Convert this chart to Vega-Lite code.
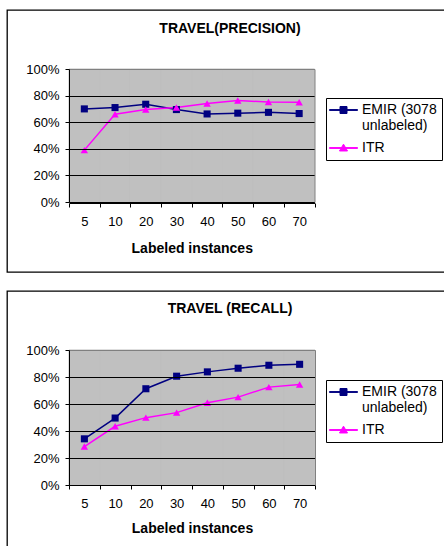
{
  "$schema": "https://vega.github.io/schema/vega-lite/v6.json",
  "padding": {"left": 6, "top": 9, "right": 0, "bottom": 0},
  "autosize": {"type": "pad"},
  "spacing": 17,
  "resolve": {"scale": {"color": "independent"}, "legend": {"color": "independent"}},
  "config": {
    "font": "Liberation Sans",
    "view": {"stroke": "black", "strokeWidth": 1.3, "fill": "white"},
    "axis": {"labelColor": "black", "domainColor": "black", "tickColor": "black", "titleColor": "black", "labelFontSize": 13, "tickSize": 4, "domainWidth": 1, "tickWidth": 1},
    "legend": {"orient": "none", "strokeColor": "black", "fillColor": "white", "padding": 5, "symbolOffset": 5.5, "labelOffset": 11.5, "labelFontSize": 14, "labelColor": "black", "symbolSize": 49, "symbolStrokeWidth": 1, "rowPadding": 8}
  },
  "datasets": {
    "precision": [
      {"n": 5, "series": "EMIR (3078 unlabeled)", "value": 0.70},
      {"n": 10, "series": "EMIR (3078 unlabeled)", "value": 0.71},
      {"n": 20, "series": "EMIR (3078 unlabeled)", "value": 0.735},
      {"n": 30, "series": "EMIR (3078 unlabeled)", "value": 0.695},
      {"n": 40, "series": "EMIR (3078 unlabeled)", "value": 0.662},
      {"n": 50, "series": "EMIR (3078 unlabeled)", "value": 0.668},
      {"n": 60, "series": "EMIR (3078 unlabeled)", "value": 0.674},
      {"n": 70, "series": "EMIR (3078 unlabeled)", "value": 0.665},
      {"n": 5, "series": "ITR", "value": 0.39},
      {"n": 10, "series": "ITR", "value": 0.66},
      {"n": 20, "series": "ITR", "value": 0.695},
      {"n": 30, "series": "ITR", "value": 0.71},
      {"n": 40, "series": "ITR", "value": 0.74},
      {"n": 50, "series": "ITR", "value": 0.763},
      {"n": 60, "series": "ITR", "value": 0.752},
      {"n": 70, "series": "ITR", "value": 0.75}
    ],
    "recall": [
      {"n": 5, "series": "EMIR (3078 unlabeled)", "value": 0.342},
      {"n": 10, "series": "EMIR (3078 unlabeled)", "value": 0.496},
      {"n": 20, "series": "EMIR (3078 unlabeled)", "value": 0.713},
      {"n": 30, "series": "EMIR (3078 unlabeled)", "value": 0.806},
      {"n": 40, "series": "EMIR (3078 unlabeled)", "value": 0.838},
      {"n": 50, "series": "EMIR (3078 unlabeled)", "value": 0.865},
      {"n": 60, "series": "EMIR (3078 unlabeled)", "value": 0.887},
      {"n": 70, "series": "EMIR (3078 unlabeled)", "value": 0.894},
      {"n": 5, "series": "ITR", "value": 0.285},
      {"n": 10, "series": "ITR", "value": 0.435},
      {"n": 20, "series": "ITR", "value": 0.499},
      {"n": 30, "series": "ITR", "value": 0.536},
      {"n": 40, "series": "ITR", "value": 0.609},
      {"n": 50, "series": "ITR", "value": 0.651},
      {"n": 60, "series": "ITR", "value": 0.725},
      {"n": 70, "series": "ITR", "value": 0.744}
    ]
  },
  "vconcat": [
    {
      "width": 446,
      "height": 262,
      "title": {"text": "TRAVEL(PRECISION)", "anchor": "middle", "frame": "group", "orient": "top", "offset": -37, "baseline": "alphabetic", "fontSize": 14, "fontWeight": "bold", "color": "black"},
      "data": {"name": "precision"},
      "resolve": {"axis": {"y": "independent"}},
      "layer": [
        {
          "mark": {"type": "rect", "fill": "#C0C0C0", "stroke": "#C0C0C0", "strokeWidth": 0.6},
          "encoding": {
            "x": {"field": "n", "type": "ordinal", "scale": {"type": "band", "range": [62, 307.5], "paddingInner": 0, "paddingOuter": 0},
              "axis": {"orient": "bottom", "offset": -69, "tickBand": "extent", "labelAngle": 0, "labelPadding": 8, "grid": false, "title": "Labeled instances", "titleFontSize": 14, "titleFontWeight": "bold", "titlePadding": 13, "zindex": 1}},
            "y": {"datum": 0, "type": "quantitative", "scale": {"domain": [0, 1], "range": [192, 59]},
              "axis": {"orient": "left", "offset": -62, "values": [0, 0.2, 0.4, 0.6, 0.8, 1], "format": ".0%", "labelPadding": 6, "grid": true, "gridColor": {"condition": {"test": "datum.value === 1", "value": "#808080"}, "value": "black"}, "gridWidth": 1, "title": null, "zindex": 1}},
            "y2": {"datum": 1}
          }
        },
        {
          "mark": {"type": "line", "strokeWidth": 1.5},
          "encoding": {
            "x": {"field": "n", "type": "ordinal", "scale": {"type": "band", "range": [62, 307.5], "paddingInner": 0, "paddingOuter": 0}},
            "y": {"field": "value", "type": "quantitative", "scale": {"domain": [0, 1], "range": [192, 59]},
              "axis": {"orient": "right", "offset": -138.5, "labels": false, "ticks": false, "grid": false, "title": null, "domainColor": "#808080", "zindex": 1}},
            "color": {"field": "series", "type": "nominal", "scale": {"domain": ["EMIR (3078 unlabeled)", "ITR"], "range": ["#000080", "#FF00FF"]},
              "legend": {"legendX": 319, "legendY": 88, "title": null,
                "labelExpr": "datum.value === 'ITR' ? 'ITR' : ['EMIR (3078', 'unlabeled)']",
                "encode": {
                  "symbols": {"update": {
                    "shape": {"signal": "datum.value === 'ITR' ? 'M-4,-0.12H4V0.12H-4Z M0,-1.1L1.15,0.85H-1.15Z' : 'M-4,-0.12H4V0.12H-4Z M-1,-1H1V1H-1Z'"},
                    "fill": {"signal": "datum.value === 'ITR' ? '#FF00FF' : '#000080'"}
                  }},
                  "labels": {"update": {"lineHeight": {"value": 15.5}}}
                }}}
          }
        },
        {
          "transform": [{"filter": "datum.series === 'EMIR (3078 unlabeled)'"}],
          "mark": {"type": "point", "shape": "square", "filled": true, "size": 50, "color": "#000080", "opacity": 1},
          "encoding": {
            "x": {"field": "n", "type": "ordinal", "scale": {"type": "band", "range": [62, 307.5], "paddingInner": 0, "paddingOuter": 0}},
            "y": {"field": "value", "type": "quantitative", "scale": {"domain": [0, 1], "range": [192, 59]}, "axis": null}
          }
        },
        {
          "transform": [{"filter": "datum.series === 'ITR'"}],
          "mark": {"type": "point", "shape": "triangle-up", "filled": true, "size": 55, "color": "#FF00FF", "opacity": 1},
          "encoding": {
            "x": {"field": "n", "type": "ordinal", "scale": {"type": "band", "range": [62, 307.5], "paddingInner": 0, "paddingOuter": 0}},
            "y": {"field": "value", "type": "quantitative", "scale": {"domain": [0, 1], "range": [192, 59]}, "axis": null}
          }
        }
      ]
    },
    {
      "width": 446,
      "height": 262,
      "title": {"text": "TRAVEL (RECALL)", "anchor": "middle", "frame": "group", "orient": "top", "offset": -36, "baseline": "alphabetic", "fontSize": 14, "fontWeight": "bold", "color": "black"},
      "data": {"name": "recall"},
      "resolve": {"axis": {"y": "independent"}},
      "layer": [
        {
          "mark": {"type": "rect", "fill": "#C0C0C0", "stroke": "#C0C0C0", "strokeWidth": 0.6},
          "encoding": {
            "x": {"field": "n", "type": "ordinal", "scale": {"type": "band", "range": [62, 308], "paddingInner": 0, "paddingOuter": 0},
              "axis": {"orient": "bottom", "offset": -68, "tickBand": "extent", "labelAngle": 0, "labelPadding": 8, "grid": false, "title": "Labeled instances", "titleFontSize": 14, "titleFontWeight": "bold", "titlePadding": 11, "zindex": 1}},
            "y": {"datum": 0, "type": "quantitative", "scale": {"domain": [0, 1], "range": [194, 59]},
              "axis": {"orient": "left", "offset": -62, "values": [0, 0.2, 0.4, 0.6, 0.8, 1], "format": ".0%", "labelPadding": 6, "grid": true, "gridColor": {"condition": {"test": "datum.value === 1", "value": "#808080"}, "value": "black"}, "gridWidth": 1, "title": null, "zindex": 1}},
            "y2": {"datum": 1}
          }
        },
        {
          "mark": {"type": "line", "strokeWidth": 1.5},
          "encoding": {
            "x": {"field": "n", "type": "ordinal", "scale": {"type": "band", "range": [62, 308], "paddingInner": 0, "paddingOuter": 0}},
            "y": {"field": "value", "type": "quantitative", "scale": {"domain": [0, 1], "range": [194, 59]},
              "axis": {"orient": "right", "offset": -138, "labels": false, "ticks": false, "grid": false, "title": null, "domainColor": "#808080", "zindex": 1}},
            "color": {"field": "series", "type": "nominal", "scale": {"domain": ["EMIR (3078 unlabeled)", "ITR"], "range": ["#000080", "#FF00FF"]},
              "legend": {"legendX": 319, "legendY": 89, "title": null,
                "labelExpr": "datum.value === 'ITR' ? 'ITR' : ['EMIR (3078', 'unlabeled)']",
                "encode": {
                  "symbols": {"update": {
                    "shape": {"signal": "datum.value === 'ITR' ? 'M-4,-0.12H4V0.12H-4Z M0,-1.1L1.15,0.85H-1.15Z' : 'M-4,-0.12H4V0.12H-4Z M-1,-1H1V1H-1Z'"},
                    "fill": {"signal": "datum.value === 'ITR' ? '#FF00FF' : '#000080'"}
                  }},
                  "labels": {"update": {"lineHeight": {"value": 15.5}}}
                }}}
          }
        },
        {
          "transform": [{"filter": "datum.series === 'EMIR (3078 unlabeled)'"}],
          "mark": {"type": "point", "shape": "square", "filled": true, "size": 50, "color": "#000080", "opacity": 1},
          "encoding": {
            "x": {"field": "n", "type": "ordinal", "scale": {"type": "band", "range": [62, 308], "paddingInner": 0, "paddingOuter": 0}},
            "y": {"field": "value", "type": "quantitative", "scale": {"domain": [0, 1], "range": [194, 59]}, "axis": null}
          }
        },
        {
          "transform": [{"filter": "datum.series === 'ITR'"}],
          "mark": {"type": "point", "shape": "triangle-up", "filled": true, "size": 55, "color": "#FF00FF", "opacity": 1},
          "encoding": {
            "x": {"field": "n", "type": "ordinal", "scale": {"type": "band", "range": [62, 308], "paddingInner": 0, "paddingOuter": 0}},
            "y": {"field": "value", "type": "quantitative", "scale": {"domain": [0, 1], "range": [194, 59]}, "axis": null}
          }
        }
      ]
    }
  ]
}
